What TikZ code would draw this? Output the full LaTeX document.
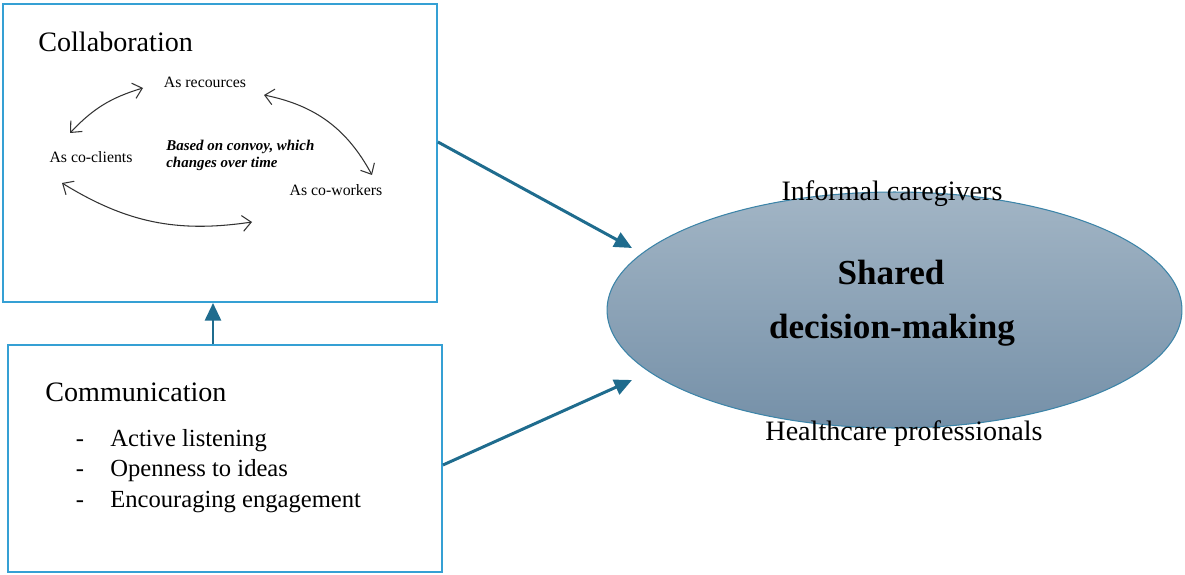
\documentclass[tikz,border=0pt]{standalone}
\usepackage{fontspec}
\setmainfont{Liberation Serif}
\usepackage{tikz}
\usetikzlibrary{shapes.geometric,arrows.meta}
\definecolor{boxblue}{HTML}{35A0D4}
\definecolor{flowblue}{HTML}{1F6C8E}
\definecolor{ovaledge}{HTML}{3C84A8}
\definecolor{ovaltop}{HTML}{A2B5C5}
\definecolor{ovalbottom}{HTML}{7590A8}
\tikzset{
  panel/.style={draw=boxblue, line width=1.1pt, fill=white},
  flow/.style={draw=flowblue, line width=1.7pt, -{Triangle[length=10pt,width=9pt]}},
  role/.style={inner sep=0pt, font=\fontsize{9}{11}\selectfont},
  rolearrow/.style={draw=black!80, line width=0.6pt, {Straight Barb[length=5pt,width=9pt]}-{Straight Barb[length=5pt,width=9pt]}},
  heading/.style={inner sep=0pt, anchor=west, font=\fontsize{16}{19}\selectfont},
  item/.style={inner sep=0pt, anchor=base west, font=\fontsize{14}{17}\selectfont},
  actor/.style={inner sep=0pt, font=\fontsize{16}{19}\selectfont}
}
\newcommand{\rolenode}[3] {\node at (#1) (#2) [role] {#3};}
\newcommand{\roletransition}[3] {\draw [rolearrow] (#1) to[#3] (#2);}
\newcommand{\commitem}[3] {\node at (80,#1) (#2-dash) [inner sep=0pt, anchor=base, font=\fontsize{14}{17}\selectfont] {-}; \node at (110,#1) (#2) [item] {#3};}

\begin{document}
\begin{tikzpicture}[x=0.02cm, y=-0.02cm]
\useasboundingbox (0,0) rectangle (1185,574);

% boxes
\node at (220,153) (collab) [panel, minimum width=8.68cm, minimum height=5.96cm] {};
\node at (225,458.5) (comm) [panel, minimum width=8.68cm, minimum height=4.54cm] {};

% shared decision-making
\node at (894.5,310) (sdm) [ellipse, draw=ovaledge, line width=0.6pt, top color=ovaltop, bottom color=ovalbottom,
  minimum width=11.5cm, minimum height=4.72cm] {};
\node at (892,330) (decision) [inner sep=0pt, font=\bfseries\fontsize{20}{24}\selectfont] {decision-making};
\node at (891,272) (shared) [inner sep=0pt, font=\bfseries\fontsize{20}{24}\selectfont] {Shared};
\node at (892,194) (informal) [actor] {Informal caregivers};
\node at (904,434) (health) [actor] {Healthcare professionals};

% collaboration
\node at (38,42) (collabtitle) [heading] {Collaboration};
\rolenode {205,82}{resources}{As recources};
\rolenode {91,157}{coclients}{As co-clients};
\rolenode {336,190}{coworkers}{As co-workers};
\node at (166,155.5) (convoy) [inner sep=0pt, anchor=west, align=left,
  font=\bfseries\itshape\fontsize{8.5}{9.8}\selectfont] {Based on convoy, which\\changes over time};

\coordinate (r1) at (143,88);
\coordinate (c1) at (70,133);
\coordinate (r2) at (264,95);
\coordinate (w1) at (372,175);
\coordinate (c2) at (62,183);
\coordinate (w2) at (252,222);
\roletransition{r1}{c1}{bend right=15};
\roletransition{r2}{w1}{bend left=25};
\roletransition{c2}{w2}{bend right=20};

% communication
\node at (45,392) (commtitle) [heading] {Communication};
\commitem{446}{listening}{Active listening};
\commitem{476}{openness}{Openness to ideas};
\commitem{507}{engaging}{Encouraging engagement};

% flows
\coordinate (tipA) at (632,248);
\coordinate (tipB) at (632,380);
\draw [flow] (collab.east |- 0,142) -- (tipA);
\draw [flow] (comm.east |- 0,465) -- (tipB);
\draw [flow] (comm.north -| 213,0) -- (collab.south -| 213,0);
\end{tikzpicture}
\end{document}
